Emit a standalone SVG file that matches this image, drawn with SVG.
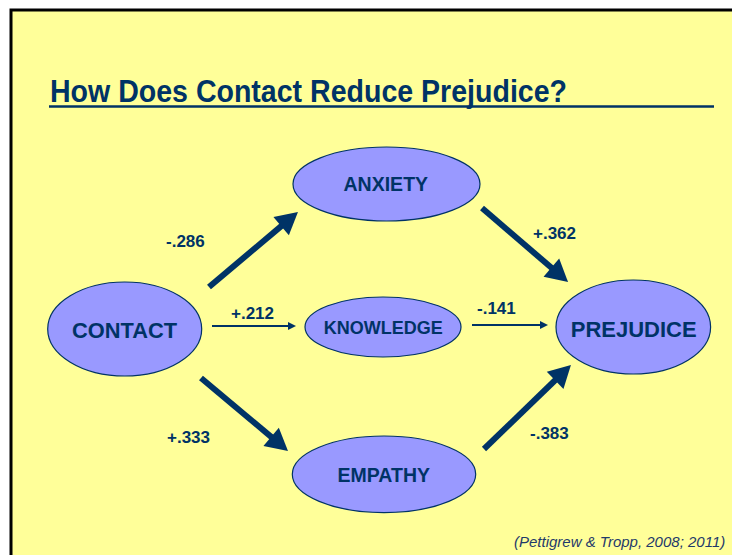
<svg xmlns="http://www.w3.org/2000/svg" width="732" height="555" viewBox="0 0 732 555">
<style>
.node ellipse{fill:#9999FF;stroke:#003366;stroke-width:1.2}
.lbl{font-family:"Liberation Sans",Arial,sans-serif;font-weight:bold;fill:#003366;text-anchor:middle}
.coef{font-family:"Liberation Sans",Arial,sans-serif;font-weight:bold;fill:#003366;font-size:17px}
.thick{stroke:#003366;stroke-width:6;fill:none;marker-end:url(#bigHead)}
.thin{stroke:#003366;stroke-width:2;fill:none;marker-end:url(#smallHead)}
</style>
<defs>
<marker id="bigHead" markerUnits="userSpaceOnUse" markerWidth="24" markerHeight="26" refX="4" refY="12" orient="auto" overflow="visible">
<path d="M0,0 L22,12 L0,24 z" fill="#003366"/>
</marker>
<marker id="smallHead" markerUnits="userSpaceOnUse" markerWidth="10" markerHeight="10" refX="2" refY="4" orient="auto" overflow="visible">
<path d="M0,0 L8,4 L0,8 z" fill="#003366"/>
</marker>
</defs>
<rect x="0" y="0" width="732" height="555" fill="#FFFFFF"/>
<rect x="11" y="10" width="725" height="550" fill="#FFFF99" stroke="#000000" stroke-width="3"/>
<g id="title">
<text x="50" y="102" font-family="'Liberation Sans',Arial,sans-serif" font-weight="bold" font-size="30.5" fill="#003366" textLength="517" lengthAdjust="spacingAndGlyphs">How Does Contact Reduce Prejudice?</text>
<line x1="49" y1="106.5" x2="714" y2="106.5" stroke="#003366" stroke-width="2.5"/>
</g>
<g id="connectors">
<line class="thick" x1="209" y1="287" x2="284.2" y2="223.6"/>
<line class="thick" x1="482" y1="208" x2="554.4" y2="270.3"/>
<line class="thick" x1="201" y1="378" x2="274.2" y2="439.4"/>
<line class="thick" x1="484" y1="449" x2="558" y2="377.5"/>
<line class="thin" x1="212" y1="326" x2="290" y2="326"/>
<line class="thin" x1="472" y1="325" x2="542" y2="325"/>
<text class="coef" x="166" y="247">-.286</text>
<text class="coef" x="231" y="319">+.212</text>
<text class="coef" x="477" y="314">-.141</text>
<text class="coef" x="533" y="239">+.362</text>
<text class="coef" x="167" y="443">+.333</text>
<text class="coef" x="530" y="439">-.383</text>
</g>
<g id="contact" class="node">
<ellipse cx="124.7" cy="329" rx="77" ry="47"/>
<text class="lbl" x="124.5" y="338" font-size="22.5" textLength="105" lengthAdjust="spacingAndGlyphs">CONTACT</text>
</g>
<g id="anxiety" class="node">
<ellipse cx="386.5" cy="184" rx="93.5" ry="37"/>
<text class="lbl" x="385.8" y="191" font-size="19.5">ANXIETY</text>
</g>
<g id="knowledge" class="node">
<ellipse cx="383" cy="327" rx="78" ry="30"/>
<text class="lbl" x="383.3" y="334" font-size="18">KNOWLEDGE</text>
</g>
<g id="empathy" class="node">
<ellipse cx="384" cy="474.3" rx="91.7" ry="38.3"/>
<text class="lbl" x="383.8" y="482" font-size="19.5">EMPATHY</text>
</g>
<g id="prejudice" class="node">
<ellipse cx="633.3" cy="327" rx="77.3" ry="47"/>
<text class="lbl" x="633.7" y="336.5" font-size="22">PREJUDICE</text>
</g>
<text x="514" y="547" font-family="'Liberation Sans',Arial,sans-serif" font-style="italic" font-size="15" fill="#1F3A6A">(Pettigrew &amp; Tropp, 2008; 2011)</text>
</svg>
